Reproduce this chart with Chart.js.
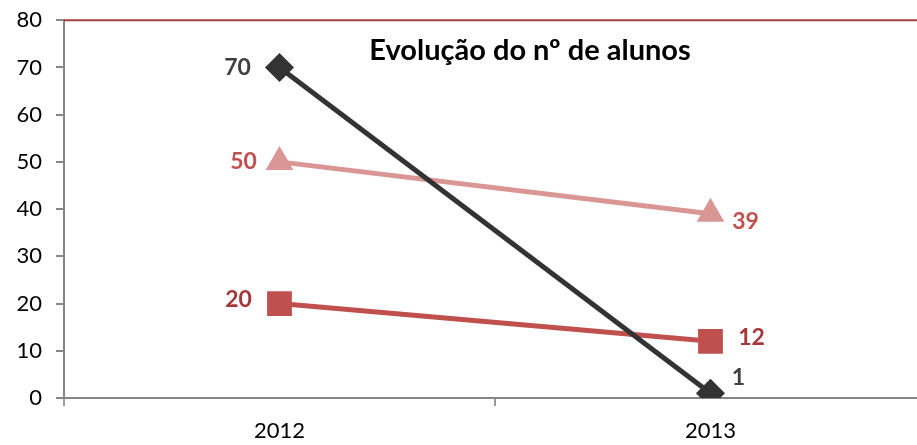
<!DOCTYPE html>
<html>
<head>
<meta charset="utf-8">
<script src="https://cdn.jsdelivr.net/npm/chart.js@4/dist/chart.umd.min.js"></script>
<style>
html,body{margin:0;padding:0;background:#fff;overflow:hidden;}
#wrap{position:relative;width:945px;height:452px;top:-7px;}
</style>
</head>
<body>
<div id="wrap"><canvas id="c" width="945" height="452"></canvas></div>
<script>
const categories = ['2012', '2013'];
const seriesBlack = [70, 1];
const seriesPink = [50, 39];
const seriesRed = [20, 12];
const yTicks = [0, 10, 20, 30, 40, 50, 60, 70, 80];
const chartTitle = 'Evolução do nº de alunos';

const FONT = 'Lato, "Open Sans", sans-serif';

const labelPlugin = {
  id: 'dataLabels',
  afterDatasetsDraw(chart, args, opts) {
    const ctx = chart.ctx;
    ctx.save();
    ctx.font = 'bold 23px ' + FONT;
    ctx.textAlign = 'center';
    ctx.textBaseline = 'middle';
    chart.data.datasets.forEach((ds, di) => {
      const meta = chart.getDatasetMeta(di);
      const offs = opts.offsets[di];
      meta.data.forEach((pt, i) => {
        ctx.fillStyle = opts.colors[di];
        ctx.fillText(String(ds.data[i]), pt.x + offs[i][0], pt.y + offs[i][1]);
      });
    });
    ctx.restore();
  }
};

const framePlugin = {
  id: 'frame',
  beforeDatasetsDraw(chart) {
    const ctx = chart.ctx, a = chart.chartArea;
    const y = chart.scales.y.getPixelForValue(80);
    ctx.save();
    ctx.strokeStyle = '#a23f3d';
    ctx.lineWidth = 2;
    ctx.beginPath();
    ctx.moveTo(a.left, y);
    ctx.lineTo(a.right, y);
    ctx.stroke();
    ctx.restore();
  },
  afterDatasetsDraw(chart) {
    const ctx = chart.ctx, a = chart.chartArea;
    ctx.save();
    ctx.font = 'bold 29px ' + FONT;
    ctx.fillStyle = '#000';
    ctx.textAlign = 'center';
    ctx.textBaseline = 'middle';
    ctx.fillText(chartTitle, 530, a.top + 30);
    ctx.restore();
  }
};

new Chart(document.getElementById('c'), {
  type: 'line',
  data: {
    labels: categories,
    datasets: [
      {
        data: seriesBlack,
        borderColor: '#333333',
        backgroundColor: '#333333',
        borderWidth: 5,
        pointStyle: 'rectRot',
        pointRadius: 11,
        pointHoverRadius: 11
      },
      {
        data: seriesPink,
        borderColor: '#d99694',
        backgroundColor: '#d99694',
        borderWidth: 5,
        pointStyle: 'triangle',
        pointRadius: 11,
        pointHoverRadius: 11
      },
      {
        data: seriesRed,
        borderColor: '#c0504d',
        backgroundColor: '#c0504d',
        borderWidth: 5,
        pointStyle: 'rect',
        pointRadius: 14,
        pointHoverRadius: 14
      }
    ]
  },
  options: {
    responsive: false,
    animation: false,
    layout: { padding: { top: 13, left: 0, right: 0, bottom: 0 } },
    plugins: {
      legend: { display: false },
      tooltip: { enabled: false },
      title: { display: false },
      dataLabels: {
        colors: ['#404040', '#c0504d', '#a5393a'],
        offsets: [
          [[-42, 0], [28, -16]],
          [[-36, 0], [35, 8]],
          [[-41, -4], [41, -4]]
        ]
      }
    },
    scales: {
      x: {
        type: 'category',
        offset: true,
        border: { display: true, color: '#868686', width: 2 },
        grid: { display: true, drawOnChartArea: false, offset: true, tickLength: 8, color: '#9a9a9a', lineWidth: 2 },
        ticks: { color: '#000', font: { family: FONT, size: 22 }, padding: 12 },
        afterFit(scale) { scale.height = 47; }
      },
      y: {
        min: 0,
        max: 80,
        afterBuildTicks(scale) { scale.ticks = yTicks.map(v => ({ value: v })); },
        border: { display: true, color: '#868686', width: 2 },
        grid: { display: true, drawOnChartArea: false, tickLength: 8, color: '#868686', lineWidth: 2 },
        ticks: { color: '#000', font: { family: FONT, size: 22 }, padding: 14 },
        afterFit(scale) { scale.width = 64; }
      }
    }
  },
  plugins: [labelPlugin, framePlugin]
});
</script>
</body>
</html>
